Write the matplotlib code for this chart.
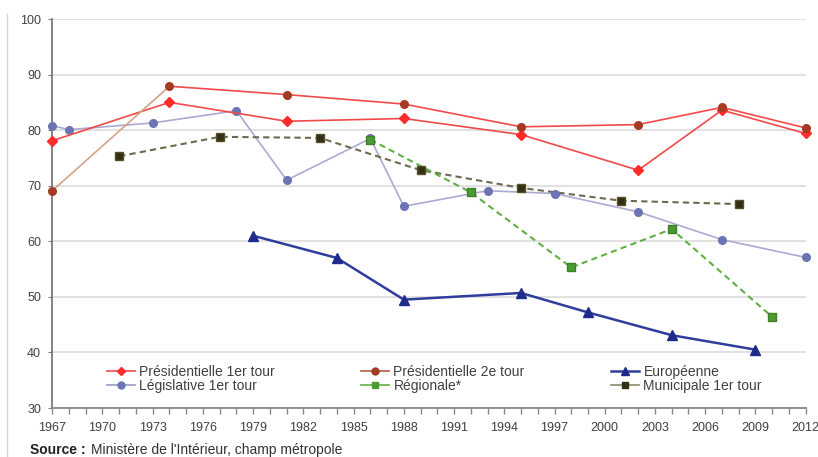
import matplotlib.pyplot as plt
from matplotlib.lines import Line2D

plt.rcParams["font.family"] = ["Liberation Sans", "DejaVu Sans"]

# Participation (%) by election type and year
pres1_years = [1967, 1974, 1981, 1988, 1995, 2002, 2007, 2012]
pres1_vals = [78.1, 85.0, 81.6, 82.1, 79.2, 72.8, 83.6, 79.4]

pres2_years = [1967, 1974, 1981, 1988, 1995, 2002, 2007, 2012]
pres2_vals = [69.1, 87.9, 86.4, 84.7, 80.6, 81.0, 84.1, 80.4]

legis_years = [1967, 1968, 1973, 1978, 1981, 1986, 1988, 1993, 1997, 2002, 2007, 2012]
legis_vals = [80.8, 80.1, 81.3, 83.5, 71.0, 78.5, 66.3, 69.1, 68.6, 65.3, 60.3, 57.1]

euro_years = [1979, 1984, 1988, 1995, 1999, 2004, 2009]
euro_vals = [61.0, 57.0, 49.5, 50.7, 47.2, 43.1, 40.5]

reg_years = [1986, 1992, 1998, 2004, 2010]
reg_vals = [78.3, 68.8, 55.3, 62.2, 46.4]

muni_years = [1971, 1977, 1983, 1989, 1995, 2001, 2008]
muni_vals = [75.3, 78.8, 78.6, 72.8, 69.6, 67.3, 66.7]

labels = ["Présidentielle 1er tour", "Présidentielle 2e tour", "Européenne",
          "Législative 1er tour", "Régionale*", "Municipale 1er tour"]

fig = plt.figure(figsize=(8.18, 4.57), dpi=100)
ax = fig.add_axes([0.0639, 0.1072, 0.921, 0.8512])

red = "#f04a4a"
# legislatives
ax.plot(legis_years, legis_vals, color="#aaaad2", lw=1.2, zorder=2)
ax.plot(legis_years, legis_vals, ls="none", marker="o", ms=5.5,
        color="#6c74b4", zorder=3, clip_on=False)

# municipales and regionales, dashed
ax.plot(muni_years, muni_vals, color="#6e6a50", lw=1.5, ls=(0, (3, 2)), zorder=2)
ax.plot(muni_years, muni_vals, ls="none", marker="s", ms=6,
        color="#332f12", mec="#55502a", zorder=4)
ax.plot(reg_years, reg_vals, color="#5faf42", lw=1.5, ls=(0, (3, 2)), zorder=2)
ax.plot(reg_years, reg_vals, ls="none", marker="s", ms=6,
        color="#4c9a32", mec="#3f8028", zorder=4)

# europeennes
ax.plot(euro_years, euro_vals, color="#2f3d9c", lw=1.8, marker="^", ms=6.5,
        mfc="#1f2c8c", mec="#1f2c8c", zorder=3)

# presidentielles
ax.plot(pres1_years, pres1_vals, color=red, lw=1.2, zorder=3)
ax.plot(pres1_years, pres1_vals, ls="none", marker="D", ms=5,
        color="#ff2a2a", zorder=4, clip_on=False)
ax.plot(pres2_years[:2], pres2_vals[:2], color="#d4a488", lw=1.2, zorder=3)
ax.plot(pres2_years[1:], pres2_vals[1:], color=red, lw=1.2, zorder=3)
ax.plot(pres2_years, pres2_vals, ls="none", marker="o", ms=5.5,
        color="#a53a22", zorder=4, clip_on=False)

ax.set_xlim(1967, 2012)
ax.set_ylim(30, 100)
ax.set_xticks(range(1967, 2013, 3))
ax.set_xticks(range(1967, 2013), minor=True)
ax.set_yticks(range(30, 101, 10))
ax.grid(axis="y", color="#dcdcdc", lw=1.2)
ax.set_axisbelow(True)

for s in ["top", "right"]:
    ax.spines[s].set_visible(False)
ax.spines["left"].set_color("#7a7a7a")
ax.spines["left"].set_linewidth(1.3)
ax.spines["bottom"].set_color("#8a8a8a")
ax.spines["bottom"].set_linewidth(1.3)

ax.tick_params(axis="x", which="both", direction="out", length=4,
               color="#8a8a8a", width=1, labelsize=9, labelcolor="#404040", pad=6)
ax.tick_params(axis="y", direction="out", length=3, color="#7a7a7a",
               labelsize=9, labelcolor="#404040", pad=5)

handles = [
    Line2D([], [], color=red, lw=1.2, marker="D", ms=4.5, mfc="#ff2a2a", mec="#ff2a2a"),
    Line2D([], [], color="#b0603e", lw=1.2, marker="o", ms=5, mfc="#a53a22", mec="#a53a22"),
    Line2D([], [], color="#2f3d9c", lw=1.8, marker="^", ms=6, mfc="#1f2c8c", mec="#1f2c8c"),
    Line2D([], [], color="#9a9ac8", lw=1.2, marker="o", ms=5, mfc="#6c74b4", mec="#6c74b4"),
    Line2D([], [], color="#5faf42", lw=1.2, marker="s", ms=5, mfc="#4c9a32", mec="#4c9a32"),
    Line2D([], [], color="#8a8a70", lw=1.2, marker="s", ms=5, mfc="#332f12", mec="#332f12"),
]
order = [0, 3, 1, 4, 2, 5]
leg = ax.legend([handles[i] for i in order], [labels[i] for i in order],
                ncol=3, loc="center left", bbox_to_anchor=(0.0726, 0.0745),
                frameon=False, fontsize=10, borderpad=0, borderaxespad=0,
                handlelength=2.0, handletextpad=0.3, labelspacing=0.0,
                columnspacing=6.25)
for t in leg.get_texts():
    t.set_color("#404040")

fig.text(30 / 818, 3 / 457, "Source :", fontsize=10, fontweight="bold",
         color="#222222", va="baseline")
fig.text(91 / 818, 3 / 457, "Ministère de l'Intérieur, champ métropole",
         fontsize=10, color="#333333", va="baseline")

fig.add_artist(Line2D([7 / 818, 7 / 818], [0.0, 0.97], color="#d4d4d4", lw=1))

fig.savefig("out.png", dpi=100)
